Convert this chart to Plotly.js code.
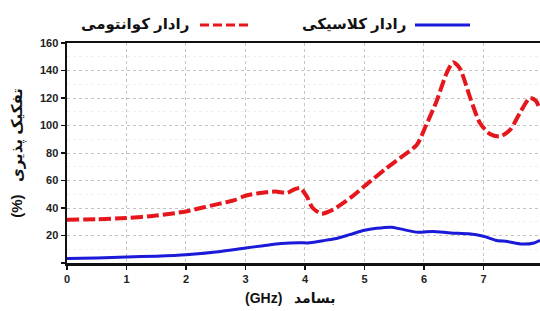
<!DOCTYPE html>
<html><head><meta charset="utf-8">
<script src="https://cdn.plot.ly/plotly-3.0.1.min.js"></script>
<style>html,body{margin:0;padding:0;background:#fff}#c{width:540px;height:311px}</style>
</head><body><div id="c"></div>
<script>
// Frequency (GHz) and resolution (%)
var classicX = [0, 0.5, 1, 1.5, 2, 2.5, 3, 3.3, 3.6, 3.9, 4.05, 4.3, 4.5, 4.75, 5.0, 5.2, 5.45, 5.6, 5.9, 6.15, 6.45, 6.75, 7.0, 7.2, 7.4, 7.65, 7.85, 7.95];
var classicY = [3.3, 3.7, 4.4, 5.0, 6.0, 8.0, 10.9, 12.6, 14.2, 14.8, 14.6, 16.2, 17.6, 20.6, 23.8, 25.2, 26.0, 24.8, 22.3, 23.0, 21.8, 21.2, 19.4, 16.6, 15.6, 13.8, 14.6, 16.5];
var quantumX = [0, 0.5, 1, 1.5, 2, 2.3, 2.55, 2.8, 3.0, 3.25, 3.5, 3.7, 3.82, 3.92, 4.03, 4.13, 4.28, 4.47, 4.76, 5.03, 5.37, 5.6, 5.88, 6.04, 6.21, 6.38, 6.49, 6.6, 6.77, 6.94, 7.11, 7.28, 7.45, 7.61, 7.78, 7.88, 7.95];
var quantumY = [31.5, 31.8, 32.7, 34.5, 37.5, 40.5, 43.0, 45.5, 48.9, 50.9, 52.0, 51.0, 53.5, 54.5, 48.4, 40.0, 35.9, 38.8, 47.3, 57.0, 69.0, 76.4, 86.0, 100.6, 117.5, 138.0, 146.0, 141.8, 121.0, 101.8, 93.8, 92.0, 97.0, 109.0, 120.0, 118.0, 111.5];
var yTickVals = [0, 20, 40, 60, 80, 100, 120, 140, 160];
var yTickText = ['', '20', '40', '60', '80', '100', '120', '140', '160'];
var xTickVals = [0, 1, 2, 3, 4, 5, 6, 7, 8];
var xTickText = ['0', '1', '2', '3', '4', '5', '6', '7', '8'];
var nameClassic = 'رادار کلاسیکی';
var nameQuantum = 'رادار کوانتومی';
var yTitle = '(%)   تفکیک پذیری';
var xTitle = '(GHz)   بسامد';

var FONT = 'Liberation Sans, Arial, DejaVu Sans, sans-serif';
var RED = '#e5161c', BLUE = '#1a1ad8';

var traces = [
  {x: quantumX, y: quantumY, mode: 'lines', name: nameQuantum,
   line: {color: RED, width: 4, dash: '12px,4px', shape: 'spline', smoothing: 0.7}},
  {x: classicX, y: classicY, mode: 'lines', name: nameClassic,
   line: {color: BLUE, width: 3, shape: 'spline', smoothing: 0.7}}
];

var L = 67, W = 473, T = 43, H = 220.3;
function px(p){ return (p - L) / W; }
function py(p){ return (T + H - p) / H; }

var layout = {
  width: 540, height: 311,
  margin: {l: L, r: 0, t: T, b: 311 - T - H},
  paper_bgcolor: '#fff', plot_bgcolor: '#fff',
  showlegend: false,
  font: {family: FONT, color: '#222'},
  xaxis: {
    range: [0, 7.95], tickvals: xTickVals, ticktext: xTickText,
    showline: true, linecolor: '#111', linewidth: 2.5, mirror: true,
    ticks: 'outside', ticklen: 4, tickwidth: 1.5, tickcolor: '#111',
    showgrid: true, gridcolor: '#c4c4c4', griddash: 'dot', gridwidth: 1,
    zeroline: false,
    tickfont: {family: FONT, size: 11, color: '#222', weight: 'bold'}
  },
  yaxis: {
    range: [0, 160], tickvals: yTickVals, ticktext: yTickText,
    showline: true, linecolor: '#111', linewidth: 2.5, mirror: false,
    ticks: 'outside', ticklen: 4, tickwidth: 1.5, tickcolor: '#111',
    showgrid: true, gridcolor: '#c4c4c4', griddash: 'dot', gridwidth: 1,
    minor: {dtick: 10, showgrid: true, gridcolor: '#f0f0f0', gridwidth: 1},
    zeroline: false,
    tickfont: {family: FONT, size: 11, color: '#222', weight: 'bold'},
    title: {text: yTitle, standoff: 14,
            font: {family: FONT, size: 15, color: '#111', weight: 'bold'}}
  },
  annotations: [
    {xref: 'paper', yref: 'paper', x: px(290), y: py(298), xanchor: 'center', yanchor: 'middle',
     showarrow: false, text: xTitle,
     font: {family: FONT, size: 14, color: '#111', weight: 'bold'}},
    {xref: 'paper', yref: 'paper', x: px(191), y: py(24), xanchor: 'right', yanchor: 'middle',
     showarrow: false, text: nameQuantum,
     font: {family: FONT, size: 15, color: '#111', weight: 'bold'}},
    {xref: 'paper', yref: 'paper', x: px(408), y: py(24), xanchor: 'right', yanchor: 'middle',
     showarrow: false, text: nameClassic,
     font: {family: FONT, size: 15, color: '#111', weight: 'bold'}}
  ],
  shapes: [
    {type: 'line', xref: 'paper', yref: 'paper', x0: px(200), x1: px(248), y0: py(25), y1: py(25),
     line: {color: RED, width: 3, dash: '9px,4px'}},
    {type: 'line', xref: 'paper', yref: 'paper', x0: px(415), x1: px(470), y0: py(25), y1: py(25),
     line: {color: BLUE, width: 3}}
  ]
};

Plotly.newPlot('c', traces, layout, {displayModeBar: false, staticPlot: true});
</script></body></html>
